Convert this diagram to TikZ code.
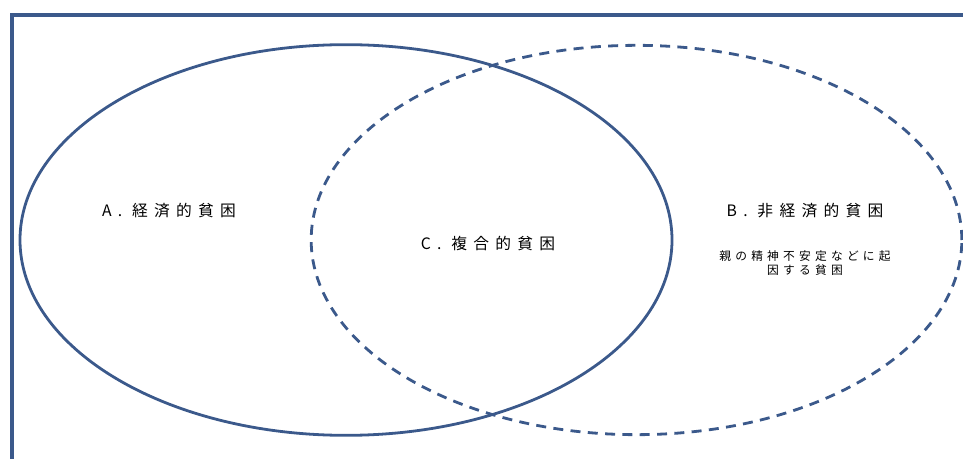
\documentclass[tikz,border=0pt]{standalone}
\usepackage{fontspec}
\setmainfont{Noto Sans CJK JP}
\usepackage{xcolor}
\usetikzlibrary{positioning}

\definecolor{frameblue}{RGB}{59,89,139}

\begin{document}
\begin{tikzpicture}[
    x=0.75pt, y=-0.75pt,
    border/.style={draw=frameblue, line width=2.4pt},
    setline/.style={draw=frameblue, line width=2.1pt},
    biglabel/.style={inner sep=0pt, align=center, font=\fontsize{11.8pt}{13pt}\selectfont\addfontfeature{LetterSpace=40}},
    smalllabel/.style={inner sep=0pt, align=center, font=\fontsize{8.8pt}{10.2pt}\selectfont\addfontfeature{LetterSpace=36}}
]
\useasboundingbox (0,0) rectangle (963,459);

% Frame
\draw[border] (12,459) -- (12,15) -- (963,15);

% Sets
\draw[setline] (346,240) ellipse [x radius=244.5pt, y radius=146.5pt];
\draw[setline, dash pattern=on 7.5pt off 5.5pt] (636.5,240) ellipse [x radius=244pt, y radius=146pt];

% Labels
\node[biglabel] (econ) at (169,211) {A. 経済的貧困};
\node[biglabel] (both) at (488,244) {C. 複合的貧困};
\node[biglabel] (nonecon) at (805,211) {B. 非経済的貧困};
\node[smalllabel, below=24pt of nonecon] (cause) {親の精神不安定などに起\\因する貧困};

\end{tikzpicture}
\end{document}
